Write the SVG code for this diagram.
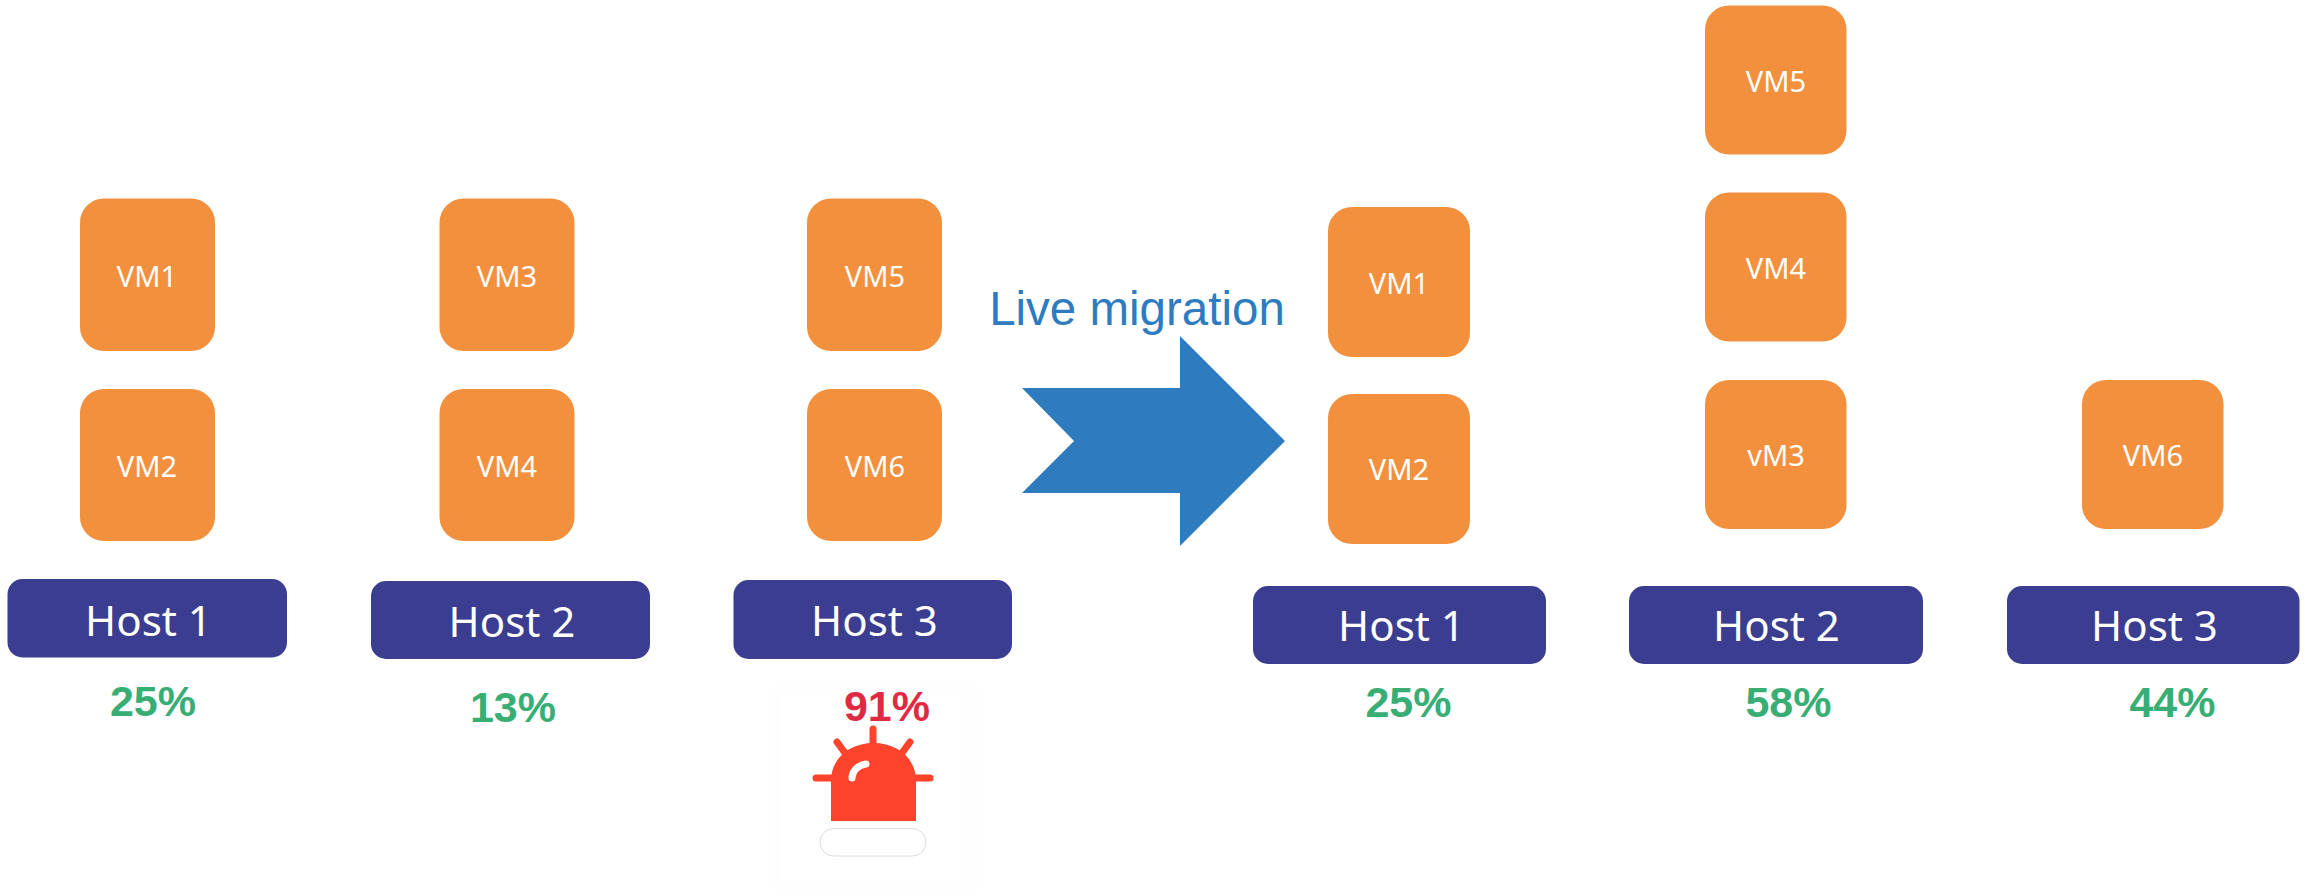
<svg xmlns="http://www.w3.org/2000/svg" width="2305" height="896" viewBox="0 0 2305 896">
<style>
.vm{fill:#F3903D}
.host{fill:#3A3D90}
.vt{font-family:"Noto Sans","Open Sans",sans-serif;font-size:29px;fill:#fff;text-anchor:middle}
.ht{font-family:"Noto Sans","Open Sans",sans-serif;font-size:42px;fill:#fff;text-anchor:middle}
.pc{font-family:"Liberation Sans",Arial,sans-serif;font-size:43px;font-weight:bold;fill:#38AE75;text-anchor:middle}
</style>
<rect width="2305" height="896" fill="#fff"/>
<g id="connectors">
<polygon points="1022,388 1180,388 1180,336 1285,441 1180,546 1180,493 1022,493 1074,441" fill="#2E7CBF"/>
</g>
<text id="migration-label" x="1137" y="325" font-family="'Liberation Sans',Arial,sans-serif" font-size="47.500" fill="#2E7CBF" text-anchor="middle">Live migration</text>
<g id="vm1-a"><rect class="vm" x="80" y="198.500" width="135" height="152.500" rx="24"/><text class="vt" x="147" y="287">VM1</text></g>
<g id="vm2-a"><rect class="vm" x="80" y="389" width="135" height="152" rx="24"/><text class="vt" x="147" y="477">VM2</text></g>
<g id="vm3-a"><rect class="vm" x="439.500" y="198.500" width="135" height="152.500" rx="24"/><text class="vt" x="507" y="287">VM3</text></g>
<g id="vm4-a"><rect class="vm" x="439.500" y="389" width="135" height="152" rx="24"/><text class="vt" x="507" y="477">VM4</text></g>
<g id="vm5-a"><rect class="vm" x="807" y="198.500" width="135" height="152.500" rx="24"/><text class="vt" x="875" y="287">VM5</text></g>
<g id="vm6-a"><rect class="vm" x="807" y="389" width="135" height="152" rx="24"/><text class="vt" x="875" y="477">VM6</text></g>
<g id="host1-a"><rect class="host" x="7.500" y="579" width="279.500" height="78.500" rx="15"/><text class="ht" x="148.500" y="636">Host 1</text></g>
<g id="host2-a"><rect class="host" x="371" y="581" width="279" height="78" rx="15"/><text class="ht" x="512" y="637">Host 2</text></g>
<g id="host3-a"><rect class="host" x="733.500" y="580" width="278.500" height="79" rx="15"/><text class="ht" x="874.500" y="636">Host 3</text></g>
<text id="pct1-a" class="pc" x="153" y="716">25%</text>
<text id="pct2-a" class="pc" x="513" y="722">13%</text>
<g id="alarm">
<rect x="770" y="680" width="212" height="216" rx="20" fill="#FEFEFE"/>
<rect x="780" y="695" width="185" height="186" fill="#fff"/>
<text x="887" y="721" font-family="'Liberation Sans',Arial,sans-serif" font-size="43" font-weight="bold" fill="#E02A44" text-anchor="middle">91%</text>
<path d="M831,821V781C831,758 850,743 873.500,743C897,743 916,758 916,781V821Z" fill="#FD432B"/>
<path d="M873,729V746M837,742L848,757M910,742L899,757M816,778H832M915,778H930" stroke="#FD432B" stroke-width="7" stroke-linecap="round" fill="none"/>
<path d="M852,778C852,771 858,765 866,764" stroke="#fff" stroke-width="7" stroke-linecap="round" fill="none"/>
<rect x="820" y="828.500" width="106" height="27.500" rx="13.700" fill="#fff" stroke="#DCDCDC" stroke-width="1"/>
</g>
<g id="vm1-b"><rect class="vm" x="1328" y="207" width="142" height="150" rx="24"/><text class="vt" x="1399" y="294">VM1</text></g>
<g id="vm2-b"><rect class="vm" x="1328" y="394" width="142" height="150" rx="24"/><text class="vt" x="1399" y="480">VM2</text></g>
<g id="vm5-b"><rect class="vm" x="1705" y="5.500" width="141.500" height="149" rx="24"/><text class="vt" x="1776" y="92">VM5</text></g>
<g id="vm4-b"><rect class="vm" x="1705" y="192.500" width="141.500" height="149" rx="24"/><text class="vt" x="1776" y="279">VM4</text></g>
<g id="vm3-b"><rect class="vm" x="1705" y="380" width="141.500" height="149" rx="24"/><text class="vt" x="1776" y="466">vM3</text></g>
<g id="vm6-b"><rect class="vm" x="2082" y="380" width="141.500" height="149" rx="24"/><text class="vt" x="2153" y="466">VM6</text></g>
<g id="host1-b"><rect class="host" x="1253" y="586" width="293" height="78" rx="15"/><text class="ht" x="1401.500" y="641">Host 1</text></g>
<g id="host2-b"><rect class="host" x="1629" y="586" width="294" height="78" rx="15"/><text class="ht" x="1776.500" y="641">Host 2</text></g>
<g id="host3-b"><rect class="host" x="2007" y="586" width="292.500" height="78" rx="15"/><text class="ht" x="2154.500" y="641">Host 3</text></g>
<text id="pct1-b" class="pc" x="1408.500" y="717">25%</text>
<text id="pct2-b" class="pc" x="1788.500" y="717">58%</text>
<text id="pct3-b" class="pc" x="2172.500" y="717">44%</text>
</svg>
